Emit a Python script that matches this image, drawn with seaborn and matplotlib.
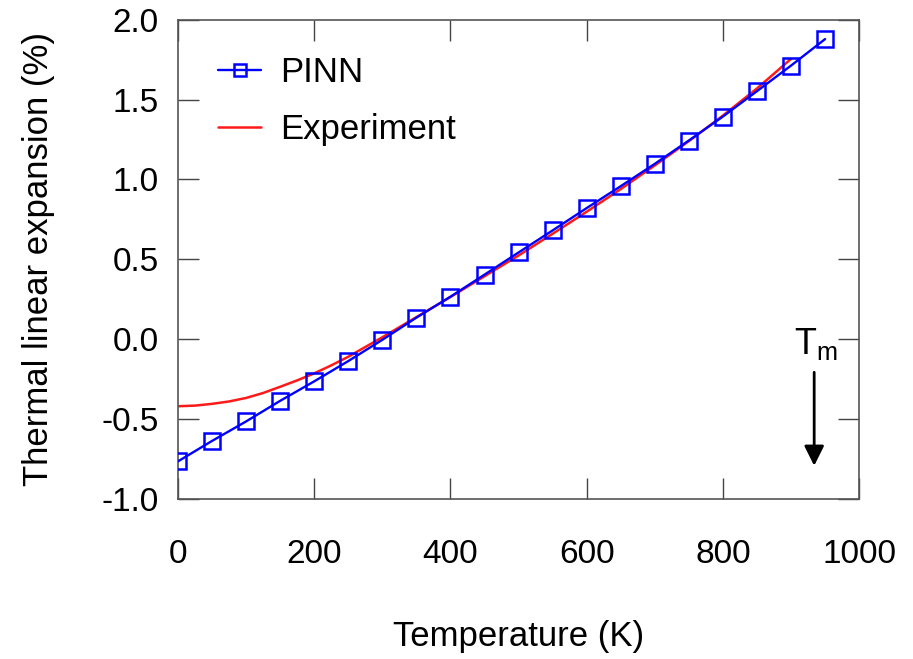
"""Thermal linear expansion: PINN vs experiment"""
import numpy as np
import pandas as pd
import matplotlib
matplotlib.use('Agg')
import matplotlib.pyplot as plt
import seaborn as sns

# PINN predictions (every 50 K)
pinn_T = [0, 50, 100, 150, 200, 250, 300, 350, 400, 450,
          500, 550, 600, 650, 700, 750, 800, 850, 900, 950]
pinn_exp = [-0.765, -0.637, -0.515, -0.386, -0.264, -0.137, -0.004, 0.135, 0.266, 0.404,
            0.543, 0.681, 0.821, 0.958, 1.098, 1.244, 1.394, 1.553, 1.713, 1.879]

# Experimental curve
exp_T = [0, 25, 50, 75, 100, 125, 150, 175, 200, 225, 250, 300, 350,
         400, 450, 500, 550, 600, 650, 700, 750, 800, 850, 900]
exp_val = [-0.420, -0.416, -0.405, -0.390, -0.368, -0.337, -0.298, -0.258, -0.214, -0.164, -0.110, 0.012, 0.138,
           0.264, 0.394, 0.524, 0.660, 0.798, 0.940, 1.088, 1.240, 1.400, 1.570, 1.755]

sns.set_theme(style='ticks')
plt.rcParams['font.family'] = ['Liberation Sans', 'DejaVu Sans']
plt.rcParams['mathtext.fontset'] = 'custom'
plt.rcParams['mathtext.rm'] = 'Liberation Sans'
plt.rcParams['mathtext.it'] = 'Liberation Sans'
plt.rcParams['text.color'] = 'black'
plt.rcParams['axes.labelcolor'] = 'black'
plt.rcParams['xtick.labelcolor'] = 'black'
plt.rcParams['ytick.labelcolor'] = 'black'

df_pinn = pd.DataFrame({'T': pinn_T, 'val': pinn_exp})
df_exp = pd.DataFrame({'T': exp_T, 'val': exp_val})

fig = plt.figure(figsize=(9.13, 6.59), dpi=100)
ax = fig.add_axes([0.195, 0.243, 0.746, 0.727])

sns.lineplot(data=df_exp, x='T', y='val', ax=ax, color='#ff1a1a', lw=1.8,
             label='Experiment', zorder=2)
sns.lineplot(data=df_pinn, x='T', y='val', ax=ax, color='#0000ff', lw=1.7,
             marker='s', markersize=11, markerfacecolor='none',
             markeredgecolor='#0000ff', markeredgewidth=1.8,
             label='PINN', zorder=3)

ax.set_xlim(0, 1000)
ax.set_ylim(-1.0, 2.0)
ax.set_xticks([0, 200, 400, 600, 800, 1000])
ax.set_yticks([-1.0, -0.5, 0.0, 0.5, 1.0, 1.5, 2.0])
ax.set_yticklabels(['-1.0', '-0.5', '0.0', '0.5', '1.0', '1.5', '2.0'])
ax.tick_params(axis='both', direction='in', length=15, width=1.0, color='#444444',
               top=True, right=True, labelsize=24)
ax.tick_params(axis='x', pad=29)
ax.tick_params(axis='y', pad=14)
for s in ax.spines.values():
    s.set_color('#555555')
    s.set_linewidth(1.2)

ax.set_xlabel('Temperature (K)', fontsize=25, labelpad=36)
ax.set_ylabel('Thermal linear expansion (%)', fontsize=25, labelpad=33)

# legend: PINN first
handles, labels = ax.get_legend_handles_labels()
order = [labels.index('PINN'), labels.index('Experiment')]
ax.legend([handles[i] for i in order], [labels[i] for i in order],
          loc='upper left', frameon=False, fontsize=25, handlelength=1.25,
          handletextpad=0.55, labelspacing=0.68, markerscale=0.85,
          bbox_to_anchor=(0.038, 0.953), borderaxespad=0.0)

# melting temperature marker
ax.annotate('', xy=(934, -0.81), xytext=(934, -0.19),
            arrowprops=dict(arrowstyle='-|>', mutation_scale=30, lw=2, color='black'))
ax.text(936, -0.09, r'T$_\mathrm{m}$', fontsize=26, ha='center', va='baseline')

plt.savefig('out.png', dpi=100)
plt.close()
